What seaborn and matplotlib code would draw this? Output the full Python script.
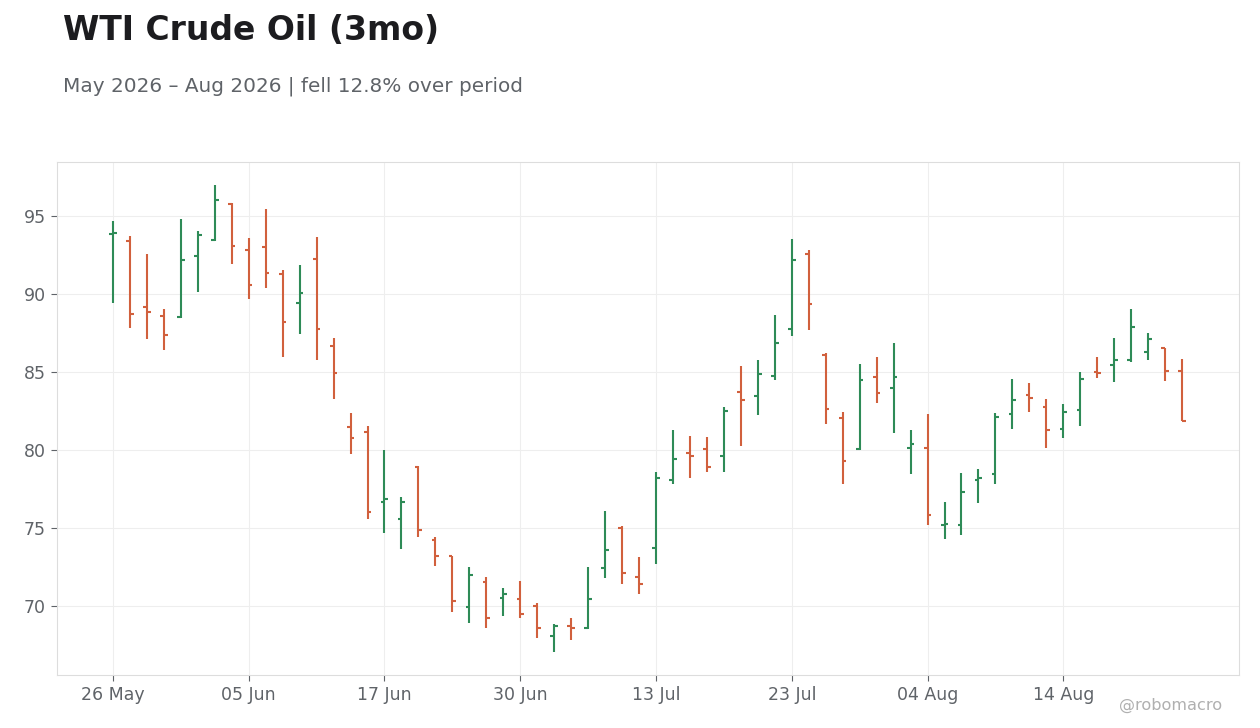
import numpy as np
import pandas as pd
import matplotlib
matplotlib.use("Agg")
import matplotlib.pyplot as plt
import seaborn as sns

# ---- data ----
opens = [93.85, 93.41, 89.17, 88.59, 88.53, 92.43, 93.46, 95.79,
         92.84, 93.03, 91.29, 89.43, 92.26, 86.67, 81.46, 81.14,
         76.64, 75.55, 78.93, 74.20, 73.17, 69.94, 71.50, 70.53,
         70.47, 70.02, 68.09, 68.73, 68.61, 72.40, 74.97, 71.88,
         73.73, 78.06, 79.79, 80.05, 79.60, 83.75, 83.50, 84.74,
         87.76, 92.58, 86.13, 82.04, 80.05, 84.67, 83.97, 80.11,
         80.11, 75.20, 75.16, 78.10, 78.44, 82.34, 83.52, 82.75,
         81.36, 82.55, 85.00, 85.44, 85.81, 86.28, 86.52, 85.06]
highs = [94.68, 93.71, 92.56, 89.02, 94.81, 94.04, 96.99, 95.88,
         93.63, 95.45, 91.53, 91.85, 93.65, 87.22, 82.38, 81.57,
         80.00, 76.99, 78.98, 74.43, 73.21, 72.51, 71.84, 71.13,
         71.61, 70.19, 68.83, 69.23, 72.51, 76.11, 75.12, 73.15,
         78.61, 81.31, 80.93, 80.86, 82.79, 85.42, 85.81, 88.64,
         93.52, 92.81, 86.20, 82.45, 85.53, 85.94, 86.90, 81.31,
         82.32, 76.66, 78.53, 78.79, 82.38, 84.57, 84.33, 83.30,
         82.98, 85.04, 85.94, 87.22, 89.02, 87.54, 86.56, 85.87]
lows = [89.41, 87.82, 87.10, 86.41, 88.50, 90.14, 93.40, 91.96,
        89.69, 90.39, 85.96, 87.44, 85.76, 83.26, 79.72, 75.55,
        74.65, 73.62, 74.45, 72.53, 69.63, 68.93, 68.61, 69.38,
        69.25, 67.96, 67.06, 67.84, 68.54, 71.76, 71.43, 70.79,
        72.70, 77.84, 78.23, 78.61, 78.61, 80.28, 82.28, 84.48,
        87.35, 87.69, 81.65, 77.80, 80.00, 83.00, 81.07, 78.44,
        75.16, 74.26, 74.58, 76.58, 77.80, 81.33, 82.42, 80.11,
        80.80, 81.53, 84.61, 84.35, 85.64, 85.81, 84.42, 81.85]
closes = [93.95, 88.70, 88.89, 87.37, 92.19, 93.78, 96.03, 93.09,
          90.59, 91.36, 88.21, 90.07, 87.74, 84.93, 80.75, 76.04,
          76.83, 76.64, 74.84, 73.23, 70.34, 71.95, 69.23, 70.79,
          69.50, 68.61, 68.73, 68.61, 70.47, 73.56, 72.14, 71.43,
          78.18, 79.40, 79.64, 78.93, 82.53, 83.24, 84.91, 86.84,
          92.17, 89.36, 82.62, 79.27, 84.48, 83.64, 84.67, 80.37,
          75.81, 75.25, 77.33, 78.20, 82.15, 83.24, 83.32, 81.27,
          82.42, 84.54, 84.95, 85.81, 87.89, 87.12, 85.06, 81.89]
start_date = "2026-05-26"
market_holidays = ["2026-06-19", "2026-07-03"]
title = "WTI Crude Oil (3mo)"
subtitle = "May 2026 \u2013 Aug 2026 | fell 12.8% over period"
watermark = "@robomacro"

dates = pd.bdate_range(start_date, periods=len(opens), freq="C",
                       holidays=market_holidays)
df = pd.DataFrame({"date": dates, "open": opens, "high": highs,
                   "low": lows, "close": closes})
df["x"] = np.arange(len(df))
df["dir"] = np.where(df["close"] >= df["open"], "up", "down")

UP = "#2e8b57"
DOWN = "#d1603d"
TEXT = "#5f6368"

sns.set_theme(style="whitegrid", rc={
    "axes.edgecolor": "#dddddd",
    "grid.color": "#eeeeee",
    "grid.linewidth": 0.8,
    "axes.linewidth": 0.8,
    "xtick.color": TEXT, "ytick.color": TEXT,
    "xtick.labelcolor": TEXT, "ytick.labelcolor": TEXT,
    "xtick.bottom": True, "ytick.left": True,
    "xtick.major.size": 4, "ytick.major.size": 4,
    "xtick.major.width": 0.8, "ytick.major.width": 0.8,
})
plt.rcParams["font.family"] = ["DejaVu Sans"]

fig = plt.figure(figsize=(12.6, 7.28), dpi=100)
ax = fig.add_axes([0.0452, 0.0728, 0.9381, 0.7047])

tick_w = 0.22
lw = 1.5
for d, color in (("up", UP), ("down", DOWN)):
    sub = df[df["dir"] == d]
    ax.vlines(sub["x"], sub["low"], sub["high"], colors=color, linewidth=lw)
    ax.hlines(sub["open"], sub["x"] - tick_w, sub["x"], colors=color, linewidth=lw)
    ax.hlines(sub["close"], sub["x"], sub["x"] + tick_w, colors=color, linewidth=lw)

n = len(df)
ax.set_xlim(-3.3, (n - 1) + 3.35)
ax.margins(y=0.05)
ax.set_xticks(df["x"].values[::8])
ax.set_xticklabels([d.strftime("%d %b") for d in df["date"].iloc[::8]])
ax.set_yticks([70, 75, 80, 85, 90, 95])
ax.tick_params(axis="both", labelsize=12.5, pad=4)
for s in ax.spines.values():
    s.set_visible(True)
    s.set_color("#dddddd")
ax.set_xlabel("")
ax.set_ylabel("")

fig.text(63 / 1260, 1 - 13.5 / 728, title, fontsize=23.8, fontweight="bold",
         color="#1c1c1f", ha="left", va="top")
fig.text(63 / 1260, 1 - 76.5 / 728, subtitle, fontsize=14.4, color=TEXT,
         ha="left", va="top")
fig.text(1222 / 1260, 1 - 705 / 728, watermark, fontsize=11.6, color="#b0b0b0",
         ha="right", va="center")

fig.savefig("out.png", dpi=100, facecolor="white")
